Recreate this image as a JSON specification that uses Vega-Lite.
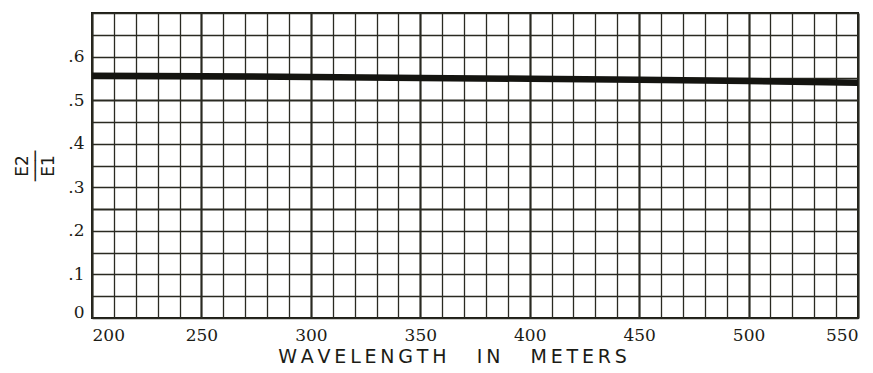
{
  "$schema": "https://vega.github.io/schema/vega-lite/v6.json",
  "autosize": "none",
  "width": 766,
  "height": 305,
  "padding": {"left": 92, "top": 13, "right": 15, "bottom": 55},
  "background": "white",
  "config": {
    "view": {"stroke": "#1c1c16", "strokeWidth": 2},
    "axis": {
      "labelFont": "DejaVu Serif",
      "titleFont": "DejaVu Sans",
      "labelColor": "#1c1c16",
      "titleColor": "#1c1c16",
      "gridColor": "#2a2a22",
      "gridOpacity": 1,
      "domain": false,
      "ticks": false
    }
  },
  "data": {
    "values": [
      {"wavelength": 200, "ratio": 0.556},
      {"wavelength": 250, "ratio": 0.555},
      {"wavelength": 300, "ratio": 0.553},
      {"wavelength": 350, "ratio": 0.551},
      {"wavelength": 400, "ratio": 0.549},
      {"wavelength": 450, "ratio": 0.547},
      {"wavelength": 500, "ratio": 0.544},
      {"wavelength": 550, "ratio": 0.540}
    ]
  },
  "mark": {"type": "line", "color": "#141410", "strokeWidth": 6.5, "clip": true},
  "encoding": {
    "x": {
      "field": "wavelength",
      "type": "quantitative",
      "scale": {"domain": [200, 550], "nice": false, "zero": false},
      "axis": {
        "values": [200,210,220,230,240,250,260,270,280,290,300,310,320,330,340,350,360,370,380,390,400,410,420,430,440,450,460,470,480,490,500,510,520,530,540,550],
        "labelExpr": "datum.value % 50 === 0 ? datum.label : ''",
        "labelFontSize": 17,
        "labelPadding": 9,
        "labelFlush": true,
        "labelOverlap": false,
        "gridWidth": {"condition": {"test": "datum.value % 50 === 0", "value": 2.2}, "value": 1.3},
        "title": "W\u2009A\u2009V\u2009E\u2009L\u2009E\u2009N\u2009G\u2009T\u2009H\u00a0\u00a0\u00a0\u00a0\u00a0I\u2009N\u00a0\u00a0\u00a0\u00a0\u00a0M\u2009E\u2009T\u2009E\u2009R\u2009S",
        "titleFontSize": 19,
        "titleFontWeight": "normal",
        "titlePadding": 4,
        "titleX": 360
      }
    },
    "y": {
      "field": "ratio",
      "type": "quantitative",
      "scale": {"domain": [0, 0.7], "nice": false},
      "axis": {
        "values": [0,0.05,0.1,0.15,0.2,0.25,0.3,0.35,0.4,0.45,0.5,0.55,0.6,0.65,0.7],
        "labelExpr": "datum.value === 0 ? '0' : (round(datum.value*100) % 10 === 0 && datum.value < 0.65 ? '.' + round(datum.value*10) : '')",
        "labelFontSize": 17,
        "labelPadding": 8,
        "labelOverlap": false,
        "labelFlush": false,
        "labelOffset": {"condition": {"test": "datum.value === 0", "value": -6}, "value": 0},
        "gridWidth": {"condition": {"test": "round(datum.value*100) === 25 || round(datum.value*100) === 50", "value": 2.2}, "value": 1.3},
        "title": ["E2", "\u2500\u2500\u2500", "E1"],
        "titleFontSize": 17,
        "titleFontWeight": "normal",
        "titleLineHeight": 13,
        "titlePadding": 10
      }
    }
  }
}
